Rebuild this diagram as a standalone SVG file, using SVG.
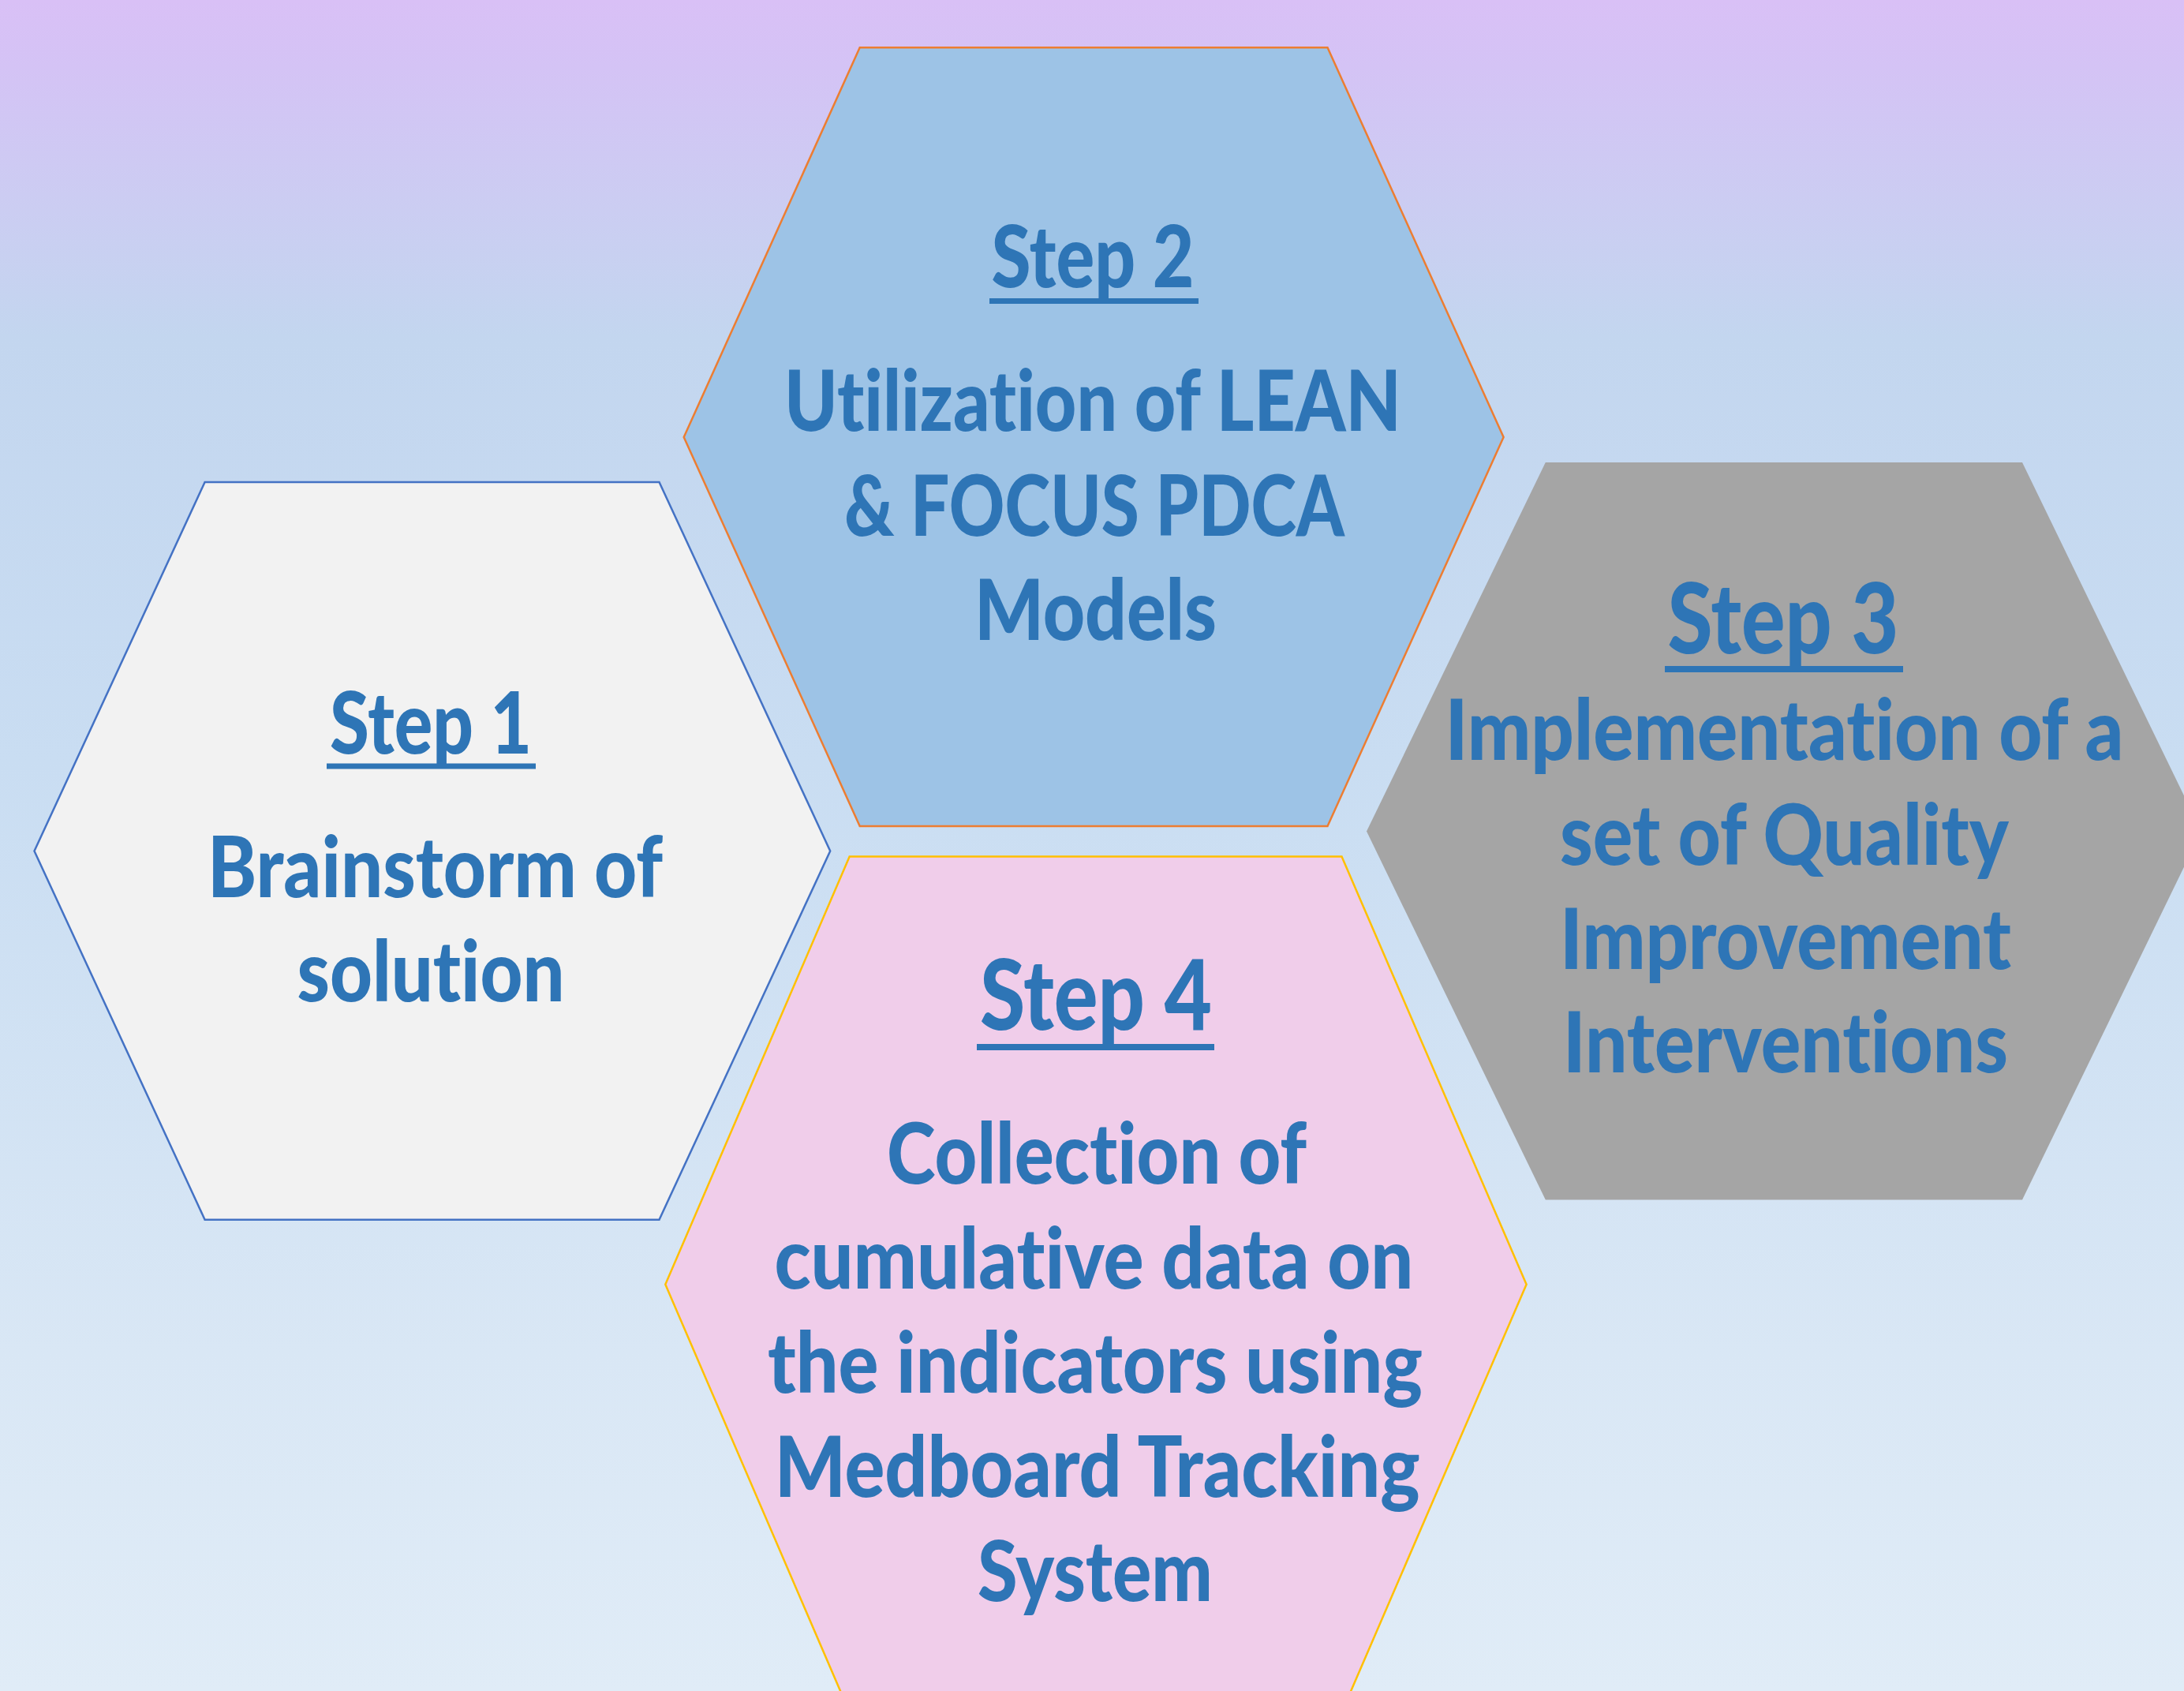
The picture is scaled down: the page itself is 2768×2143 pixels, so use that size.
<svg xmlns="http://www.w3.org/2000/svg" width="2768" height="2143" viewBox="0 0 2768 2143">
  <defs>
    <linearGradient id="bg" x1="0" y1="0" x2="0" y2="1">
      <stop offset="0" stop-color="#D9C0F6"/>
      <stop offset="0.04" stop-color="#D4C3F5"/>
      <stop offset="0.2" stop-color="#C3D6EF"/>
      <stop offset="0.45" stop-color="#C9DDF2"/>
      <stop offset="0.8" stop-color="#D9E7F5"/>
      <stop offset="1" stop-color="#E0ECF7"/>
    </linearGradient>
    <style>
      .t { font-family: Lato, "Open Sans", "Liberation Sans", sans-serif; font-weight: 900; fill: #2E75B6; text-anchor: middle; font-variant-ligatures: none; font-feature-settings: "liga" 0, "clig" 0; }
      .b { font-size: 107px; }
      .s { font-size: 109px; }
      .S { font-size: 123px; }
      .ul { fill: #2E75B6; }
    </style>
  </defs>
  <rect x="0" y="0" width="2768" height="2143" fill="url(#bg)"/>

  <g id="connectors"></g>

  <g id="step1">
    <polygon points="43.5,1078.5 259.6,611 835.5,611 1052.2,1078.5 835.5,1545.7 259.6,1545.7" fill="#F2F2F2" stroke="#4472C4" stroke-width="2.5"/>
    <text class="t s" x="546" y="955" textLength="256" lengthAdjust="spacingAndGlyphs">Step 1</text>
    <rect class="ul" x="414" y="967.5" width="265" height="7"/>
    <text class="t b" x="551.5" y="1136.5" textLength="577" lengthAdjust="spacingAndGlyphs">Brainstorm of</text>
    <text class="t b" x="546" y="1269" textLength="339" lengthAdjust="spacingAndGlyphs">solution</text>
  </g>

  <g id="step2">
    <polygon points="866.7,554 1089.7,60.2 1682.5,60.2 1905.6,554 1682.5,1047 1089.7,1047" fill="#9DC3E6" stroke="#ED7D31" stroke-width="2.5"/>
    <text class="t s" x="1385" y="364" textLength="257" lengthAdjust="spacingAndGlyphs">Step 2</text>
    <rect class="ul" x="1254" y="378" width="265" height="7"/>
    <text class="t b" x="1385" y="546" textLength="782" lengthAdjust="spacingAndGlyphs">Utilization of LEAN</text>
    <text class="t b" x="1387" y="679" textLength="634" lengthAdjust="spacingAndGlyphs">&amp; FOCUS PDCA</text>
    <text class="t b" x="1388.5" y="811" textLength="307" lengthAdjust="spacingAndGlyphs">Models</text>
  </g>

  <g id="step3">
    <polygon points="1732,1053.6 1958.8,586 2563,586 2790,1053.6 2563,1520.5 1958.8,1520.5" fill="#A5A5A5"/>
    <text class="t S" x="2260" y="828" textLength="293" lengthAdjust="spacingAndGlyphs">Step 3</text>
    <rect class="ul" x="2110" y="844" width="302" height="8"/>
    <text class="t b" x="2261.5" y="963" textLength="860" lengthAdjust="spacingAndGlyphs">Implementation of a</text>
    <text class="t b" x="2261.5" y="1095.7" textLength="569" lengthAdjust="spacingAndGlyphs">set of Quality</text>
    <text class="t b" x="2263" y="1227.7" textLength="572" lengthAdjust="spacingAndGlyphs">Improvement</text>
    <text class="t b" x="2263" y="1359" textLength="564" lengthAdjust="spacingAndGlyphs">Interventions</text>
  </g>

  <g id="step4">
    <polygon points="843.3,1627.8 1076.7,1085.6 1700.5,1085.6 1934.6,1627.8 1700.5,2170 1076.7,2170" fill="#F0CDEA" stroke="#FFC000" stroke-width="2.5"/>
    <text class="t S" x="1389" y="1305" textLength="294" lengthAdjust="spacingAndGlyphs">Step 4</text>
    <rect class="ul" x="1238" y="1323" width="301" height="8"/>
    <text class="t b" x="1390" y="1500" textLength="532" lengthAdjust="spacingAndGlyphs">Collection of</text>
    <text class="t b" x="1386.4" y="1632.6" textLength="810" lengthAdjust="spacingAndGlyphs">cumulative data on</text>
    <text class="t b" x="1387.9" y="1764.5" textLength="830" lengthAdjust="spacingAndGlyphs">the indicators using</text>
    <text class="t b" x="1390.7" y="1897" textLength="818" lengthAdjust="spacingAndGlyphs">Medboard Tracking</text>
    <text class="t b" x="1387.9" y="2029" textLength="298" lengthAdjust="spacingAndGlyphs">System</text>
  </g>
</svg>
